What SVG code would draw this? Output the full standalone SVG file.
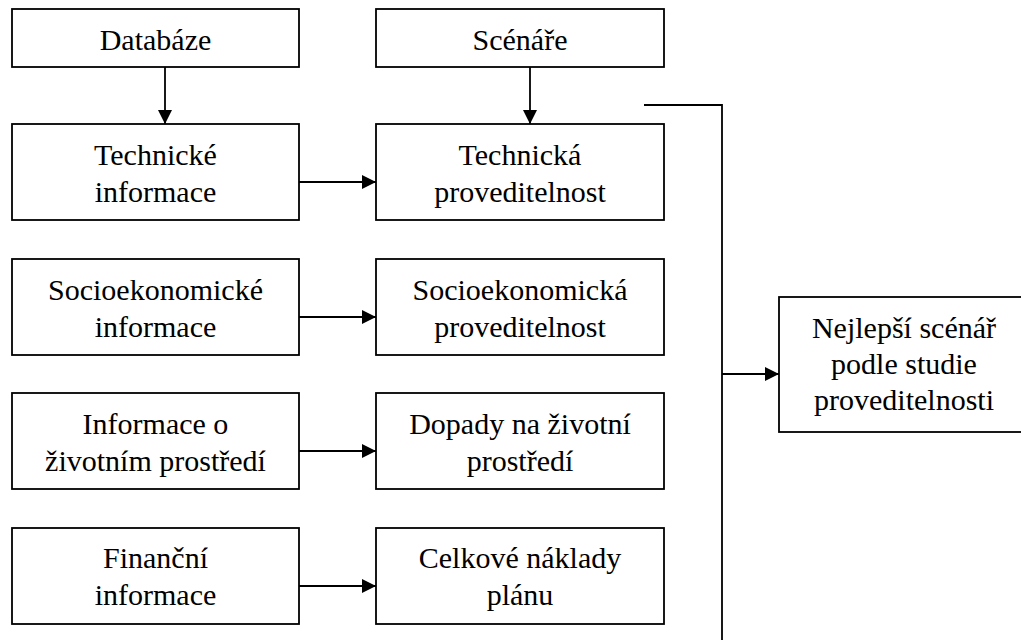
<svg xmlns="http://www.w3.org/2000/svg" width="1021" height="642" viewBox="0 0 1021 642">
<style>
.box{fill:#fff;stroke:#000;stroke-width:1.8}
.c{fill:none;stroke:#000;stroke-width:1.8}
</style>
<defs>
<marker id="ah" viewBox="0 0 14 14" refX="14" refY="7" markerWidth="14" markerHeight="14" markerUnits="userSpaceOnUse" orient="auto">
<path d="M0,0 L14,7 L0,14 Z" fill="#000"/>
</marker>
</defs>
<rect width="1021" height="642" fill="#fff"/>
<g id="connectors">
<line class="c" x1="165" y1="67" x2="165" y2="124" marker-end="url(#ah)"/>
<line class="c" x1="530" y1="67" x2="530" y2="124" marker-end="url(#ah)"/>
<line class="c" x1="299" y1="182" x2="376" y2="182" marker-end="url(#ah)"/>
<line class="c" x1="299" y1="317" x2="376" y2="317" marker-end="url(#ah)"/>
<line class="c" x1="299" y1="451" x2="376" y2="451" marker-end="url(#ah)"/>
<line class="c" x1="299" y1="586" x2="376" y2="586" marker-end="url(#ah)"/>
<polyline class="c" points="644,105 722,105 722,640"/>
<line class="c" x1="722" y1="374" x2="779" y2="374" marker-end="url(#ah)"/>
</g>
<g font-family="Liberation Serif, Times New Roman, Times, serif" font-size="30" text-anchor="middle" fill="#000">
<g id="databaze"><rect class="box" x="12" y="9" width="287" height="58"/><text x="155.5" y="50">Databáze</text></g>
<g id="scenare"><rect class="box" x="376" y="9" width="288" height="58"/><text x="520" y="50">Scénáře</text></g>
<g id="tech-info"><rect class="box" x="12" y="124" width="287" height="96"/><text x="155.5" y="165">Technické</text><text x="155.5" y="202">informace</text></g>
<g id="tech-prov"><rect class="box" x="376" y="124" width="288" height="96"/><text x="520" y="165">Technická</text><text x="520" y="202">proveditelnost</text></g>
<g id="socio-info"><rect class="box" x="12" y="259" width="287" height="96"/><text x="155.5" y="300">Socioekonomické</text><text x="155.5" y="337">informace</text></g>
<g id="socio-prov"><rect class="box" x="376" y="259" width="288" height="96"/><text x="520" y="300">Socioekonomická</text><text x="520" y="337">proveditelnost</text></g>
<g id="env-info"><rect class="box" x="12" y="393" width="287" height="96"/><text x="155.5" y="434">Informace o</text><text x="155.5" y="471">životním prostředí</text></g>
<g id="env-impact"><rect class="box" x="376" y="393" width="288" height="96"/><text x="520" y="434">Dopady na životní</text><text x="520" y="471">prostředí</text></g>
<g id="fin-info"><rect class="box" x="12" y="528" width="287" height="96"/><text x="155.5" y="568">Finanční</text><text x="155.5" y="605">informace</text></g>
<g id="fin-cost"><rect class="box" x="376" y="528" width="288" height="96"/><text x="520" y="568">Celkové náklady</text><text x="520" y="605">plánu</text></g>
<g id="best"><rect class="box" x="779" y="297" width="252" height="135"/><text x="904" y="338">Nejlepší scénář</text><text x="904" y="374">podle studie</text><text x="904" y="410">proveditelnosti</text></g>
</g>
</svg>
